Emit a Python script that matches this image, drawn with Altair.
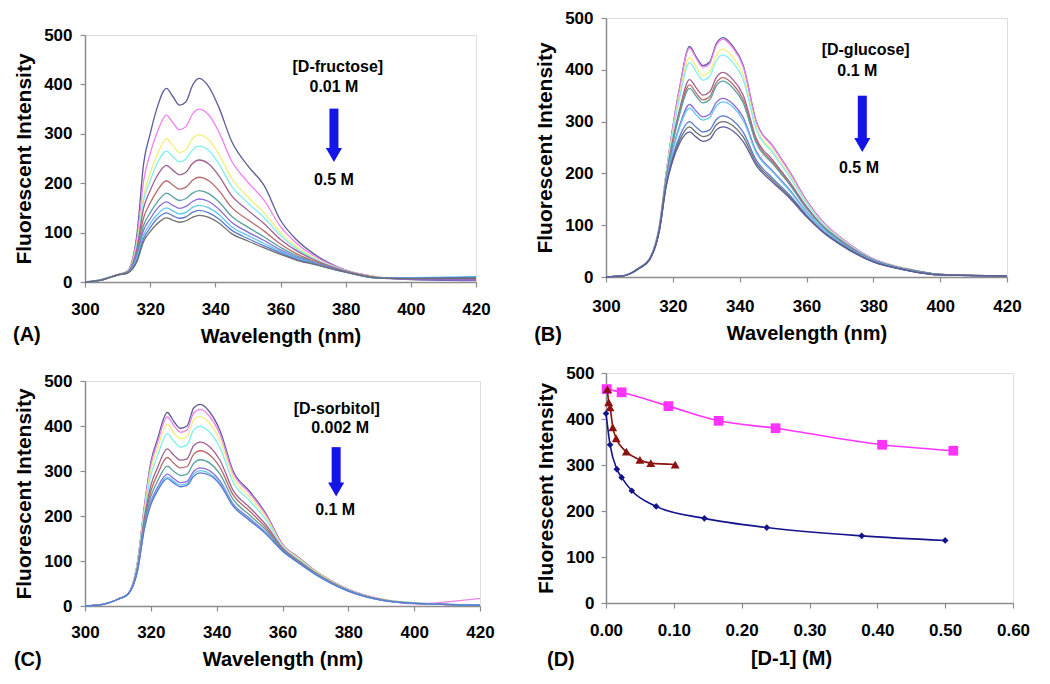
import altair as alt
import pandas as pd

# ---------------- data ----------------
WAVELENGTHS = [300, 305, 310, 313, 316, 318, 320, 322, 325, 327, 329, 331, 333,
               335, 338, 341, 345, 350, 355, 360, 365, 370, 380, 390, 400, 420]

FRUCTOSE_CURVES = [
    [0, 5, 15, 22, 100, 240, 300, 350, 392, 375, 358, 365, 398, 412, 395, 355, 285, 235, 195, 125, 85, 58, 24, 10, 5, 3],
    [0, 5, 15, 22, 90, 205, 260, 300, 338, 322, 308, 315, 340, 350, 338, 305, 245, 202, 165, 112, 78, 54, 24, 10, 6, 5],
    [0, 5, 15, 21, 80, 175, 220, 255, 290, 276, 262, 268, 290, 298, 288, 260, 210, 172, 140, 100, 71, 50, 23, 10, 7, 8],
    [0, 5, 15, 21, 75, 165, 205, 238, 265, 254, 243, 249, 267, 275, 266, 240, 194, 160, 130, 94, 67, 48, 23, 9, 8, 10],
    [0, 4, 15, 20, 70, 150, 185, 213, 236, 226, 217, 222, 240, 247, 239, 216, 175, 145, 118, 86, 63, 46, 22, 9, 6, 6],
    [0, 4, 15, 20, 65, 130, 160, 183, 205, 196, 188, 192, 206, 212, 205, 186, 151, 126, 103, 77, 57, 43, 22, 9, 7, 7],
    [0, 4, 14, 19, 60, 115, 140, 160, 180, 172, 165, 169, 180, 185, 179, 163, 133, 111, 91, 70, 53, 41, 21, 9, 8, 9],
    [0, 4, 14, 19, 55, 105, 128, 147, 162, 155, 149, 153, 163, 168, 163, 148, 121, 101, 84, 65, 50, 39, 21, 8, 6, 4],
    [0, 4, 14, 18, 50, 95, 118, 135, 150, 144, 138, 141, 151, 155, 150, 137, 112, 94, 78, 62, 48, 38, 20, 8, 9, 11],
    [0, 4, 14, 18, 45, 88, 110, 127, 140, 134, 129, 132, 141, 145, 140, 128, 105, 88, 73, 59, 46, 37, 20, 8, 8, 10],
    [0, 4, 14, 18, 42, 82, 102, 117, 130, 125, 121, 124, 131, 135, 131, 120, 98, 83, 69, 56, 44, 36, 20, 8, 7, 8],
]
FRUCTOSE_COLORS = ["#5c5c99", "#f080f0", "#f2ee7a", "#80eef0", "#a06090", "#b86a6a",
                   "#5aa0a0", "#8a6ad8", "#60c8f0", "#5a7ad0", "#6e6e6e"]

GLUCOSE_CURVES = [
    [0, 2, 18, 35, 100, 200, 290, 365, 445, 425, 408, 415, 450, 462, 445, 410, 300, 252, 203, 148, 106, 77, 35, 16, 5, 2],
    [0, 2, 18, 35, 100, 200, 289, 363, 442, 422, 405, 412, 447, 459, 442, 407, 298, 251, 202, 147, 106, 77, 35, 16, 5, 2],
    [0, 2, 18, 35, 99, 197, 282, 351, 424, 405, 389, 396, 428, 440, 424, 391, 289, 243, 196, 144, 103, 75, 34, 16, 5, 2],
    [0, 2, 18, 35, 98, 195, 278, 345, 414, 396, 380, 387, 418, 429, 414, 382, 284, 239, 193, 142, 102, 74, 34, 15, 5, 2],
    [0, 2, 18, 34, 96, 190, 265, 323, 381, 365, 351, 357, 385, 395, 381, 352, 267, 225, 183, 136, 98, 72, 33, 15, 5, 2],
    [0, 2, 18, 34, 96, 189, 261, 317, 371, 355, 342, 348, 375, 385, 372, 343, 262, 221, 180, 134, 97, 71, 32, 15, 5, 2],
    [0, 2, 18, 34, 95, 188, 258, 313, 364, 349, 336, 342, 369, 378, 365, 337, 258, 218, 178, 132, 96, 70, 32, 15, 5, 2],
    [0, 2, 17, 34, 93, 183, 246, 292, 333, 320, 309, 314, 337, 345, 334, 309, 242, 204, 168, 126, 92, 67, 31, 14, 4, 2],
    [0, 2, 17, 34, 93, 182, 243, 288, 326, 313, 303, 308, 330, 338, 328, 303, 239, 202, 166, 125, 92, 67, 31, 14, 4, 2],
    [0, 2, 17, 33, 91, 178, 233, 271, 300, 289, 280, 284, 304, 311, 302, 280, 225, 190, 158, 120, 88, 65, 30, 13, 4, 2],
    [0, 2, 17, 33, 91, 176, 229, 264, 290, 279, 271, 275, 294, 300, 292, 271, 220, 186, 155, 118, 87, 64, 29, 13, 4, 2],
    [0, 2, 17, 33, 90, 175, 225, 258, 280, 270, 262, 266, 284, 290, 282, 262, 215, 182, 152, 116, 86, 63, 29, 13, 4, 2],
]
GLUCOSE_COLORS = ["#9a5ad0", "#e070e0", "#f0ee70", "#f6eea0", "#80e4f0", "#a0e8e8",
                  "#804080", "#a07060", "#708050", "#5050a0", "#4a80d0", "#70d0f0"]

SORBITOL_CURVES = [
    [0, 3, 15, 26, 100, 220, 320, 370, 430, 410, 395, 400, 440, 448, 430, 390, 300, 255, 205, 137, 107, 78, 37, 15, 7, 2],
    [0, 3, 15, 26, 99, 217, 313, 362, 420, 401, 386, 391, 429, 437, 420, 381, 295, 251, 202, 136, 106, 77, 37, 15, 5, 17],
    [0, 3, 15, 26, 96, 211, 303, 349, 404, 385, 372, 376, 413, 421, 405, 368, 286, 243, 197, 134, 105, 77, 36, 15, 7, 2],
    [0, 3, 15, 26, 94, 204, 290, 333, 383, 366, 353, 358, 391, 399, 385, 352, 275, 234, 191, 132, 103, 75, 36, 14, 7, 2],
    [0, 3, 15, 26, 89, 193, 268, 307, 349, 335, 324, 327, 356, 364, 353, 324, 257, 219, 180, 129, 100, 74, 35, 14, 6, 2],
    [0, 3, 15, 26, 86, 186, 255, 292, 330, 317, 307, 310, 337, 345, 335, 308, 247, 211, 174, 127, 99, 73, 34, 14, 6, 2],
    [0, 3, 15, 26, 84, 180, 243, 277, 311, 299, 290, 293, 317, 325, 317, 293, 237, 202, 169, 125, 97, 72, 34, 13, 6, 2],
    [0, 3, 15, 26, 81, 174, 232, 263, 293, 283, 274, 277, 299, 307, 300, 278, 227, 195, 163, 123, 96, 71, 33, 13, 6, 2],
    [0, 3, 15, 26, 81, 172, 228, 258, 287, 277, 269, 272, 293, 301, 294, 274, 224, 192, 161, 122, 95, 70, 33, 13, 6, 2],
    [0, 3, 15, 26, 80, 170, 225, 255, 283, 273, 265, 268, 288, 296, 290, 270, 222, 190, 160, 122, 95, 70, 33, 13, 6, 2],
]
SORBITOL_COLORS = ["#6a6aa0", "#ee70ee", "#70e0d0", "#e090b8", "#d8907a",
                   "#80d8e8", "#c89090", "#9090e0", "#5a8ad0", "#3f5f9f"]

SPEC_X_TICKS = [300, 320, 340, 360, 380, 400, 420]
INTENSITY_TICKS = [0, 100, 200, 300, 400, 500]
CONC_TICKS = [0.0, 0.1, 0.2, 0.3, 0.4, 0.5, 0.6]

# panel D: intensity vs [D-1]
D_FRU_X = [0.0, 0.006, 0.016, 0.023, 0.038, 0.074, 0.145, 0.237, 0.377, 0.50]
D_FRU_Y = [412, 344, 291, 273, 244, 210, 184, 164, 146, 136]
D_GLU_X = [0.001, 0.023, 0.092, 0.166, 0.25, 0.407, 0.512]
D_GLU_Y = [465, 458, 428, 396, 380, 344, 331]
D_SOR_X = [0.002, 0.004, 0.006, 0.01, 0.015, 0.03, 0.05, 0.066, 0.102]
D_SOR_Y = [465, 436, 425, 382, 358, 329, 311, 304, 301]

# annotation texts (label, x, y in data units)
ANN_A = [("[D-fructose]", 377.6, 436), ("0.01 M", 376.4, 395), ("0.5 M", 376.4, 207)]
ANN_B = [("[D-glucose]", 377.7, 439), ("0.1 M", 375.2, 397), ("0.5 M", 375.7, 210)]
ANN_C = [("[D-sorbitol]", 376.5, 437), ("0.002 M", 377.5, 395), ("0.1 M", 376.0, 213)]
# arrows: x, shaft top, shaft bottom, head centre
ARROW_A = (376.4, 351, 266, 257)
ARROW_B = (376.7, 350, 263, 255)
ARROW_C = (376.3, 353, 268, 259)
LABEL_A = ("(A)", 277.9, -107)
LABEL_B = ("(B)", 278.5, -112)
LABEL_C = ("(C)", 278.4, -120)
LABEL_D = ("(D)", -0.087, -124)

# ---------------- styling helpers ----------------
FONT = "Liberation Sans"
GRAY = "#8c8c8c"
ARROW_COLOR = "#1515e8"


def make_axis(title, values, fmt=None, title_x=None, label_pad=12, title_pad=8, title_size=20):
    kw = dict(values=values, title=title, titleFont=FONT, titleFontSize=title_size,
              titleFontWeight="bold", titleColor="black", labelFont=FONT,
              labelFontSize=17, labelFontWeight="bold", labelColor="black",
              tickSize=5, tickColor=GRAY, tickWidth=1.2, domainColor=GRAY,
              domainWidth=1.5, labelPadding=label_pad, titlePadding=title_pad,
              grid=False, labelOverlap=False, labelFlush=False)
    if fmt:
        kw["format"] = fmt
    if title_x is not None:
        kw["titleX"] = title_x
    return alt.Axis(**kw)


def text_layer(items, xs, ys, size=16, align="center", color="black"):
    df = pd.DataFrame({"t": [i[0] for i in items], "xv": [i[1] for i in items],
                       "yv": [i[2] for i in items]})
    return alt.Chart(df).mark_text(font=FONT, fontSize=size, fontWeight="bold",
                                   color=color, align=align, baseline="middle").encode(
        x=alt.X("xv:Q", scale=xs), y=alt.Y("yv:Q", scale=ys), text="t:N")


def spectrum_panel(curves, colors, ann, arrow, label, width, height, xlab_pad, xtitle_pad):
    rows = []
    for i, curve in enumerate(curves):
        for w, v in zip(WAVELENGTHS, curve):
            rows.append({"curve": f"c{i:02d}", "xv": w, "yv": v})
    df = pd.DataFrame(rows)
    names = [f"c{i:02d}" for i in range(len(curves))]
    xs = alt.Scale(domain=[300, 420], nice=False, zero=False)
    ys = alt.Scale(domain=[0, 500], nice=False)
    lines = alt.Chart(df).mark_line(strokeWidth=1.3, interpolate="monotone").encode(
        x=alt.X("xv:Q", scale=xs, axis=make_axis("Wavelength (nm)", SPEC_X_TICKS,
                                                  label_pad=xlab_pad, title_pad=xtitle_pad)),
        y=alt.Y("yv:Q", scale=ys, axis=make_axis("Fluorescent Intensity", INTENSITY_TICKS,
                                                  label_pad=8, title_pad=9, title_size=21)),
        color=alt.Color("curve:N", scale=alt.Scale(domain=names, range=colors), legend=None),
        detail="curve:N",
    )
    adf = pd.DataFrame({"xv": [arrow[0]], "yv": [arrow[1]], "yv2": [arrow[2]], "yh": [arrow[3]]})
    shaft = alt.Chart(adf).mark_rule(strokeWidth=9, color=ARROW_COLOR).encode(
        x=alt.X("xv:Q", scale=xs), y=alt.Y("yv:Q", scale=ys), y2="yv2:Q")
    head = alt.Chart(adf).mark_point(shape="triangle-down", filled=True, size=260,
                                     color=ARROW_COLOR, opacity=1).encode(
        x=alt.X("xv:Q", scale=xs), y=alt.Y("yh:Q", scale=ys))
    texts = text_layer(ann, xs, ys, size=16)
    lab = text_layer([label], xs, ys, size=20, align="left")
    return alt.layer(lines, shaft, head, texts, lab).properties(width=width, height=height)


def titration_panel(width, height):
    xs = alt.Scale(domain=[0, 0.6], nice=False)
    ys = alt.Scale(domain=[0, 500], nice=False)
    frames = []
    for name, xv, yv in (("fru", D_FRU_X, D_FRU_Y), ("glu", D_GLU_X, D_GLU_Y),
                         ("sor", D_SOR_X, D_SOR_Y)):
        frames.append(pd.DataFrame({"s": name, "xv": xv, "yv": yv}))
    df = pd.concat(frames, ignore_index=True)
    colors = {"fru": "#14148c", "glu": "#ff33ff", "sor": "#8b1010"}
    shapes = {"fru": ("diamond", 45), "glu": ("square", 95), "sor": ("triangle-up", 80)}
    layers = []
    for k in ("glu", "sor", "fru"):
        sub = df[df.s == k]
        layers.append(alt.Chart(sub).mark_line(color=colors[k], strokeWidth=1.6,
                                               interpolate="monotone").encode(
            x=alt.X("xv:Q", scale=xs, axis=make_axis("[D-1] (M)", CONC_TICKS, fmt=".2f",
                                                      title_x=185, label_pad=14, title_pad=10)),
            y=alt.Y("yv:Q", scale=ys, axis=make_axis("Fluorescent Intensity", INTENSITY_TICKS,
                                                      label_pad=7, title_pad=9, title_size=21))))
        layers.append(alt.Chart(sub).mark_point(shape=shapes[k][0], size=shapes[k][1],
                                                filled=True, color=colors[k], opacity=1).encode(
            x=alt.X("xv:Q", scale=xs), y=alt.Y("yv:Q", scale=ys)))
    layers.append(text_layer([LABEL_D], xs, ys, size=20, align="left"))
    return alt.layer(*layers).properties(width=width, height=height)


panel_a = spectrum_panel(FRUCTOSE_CURVES, FRUCTOSE_COLORS, ANN_A, ARROW_A, LABEL_A, 391, 247,
                         xlab_pad=14, xtitle_pad=9)
panel_b = spectrum_panel(GLUCOSE_CURVES, GLUCOSE_COLORS, ANN_B, ARROW_B, LABEL_B, 401, 259,
                         xlab_pad=16, xtitle_pad=9)
panel_c = spectrum_panel(SORBITOL_CURVES, SORBITOL_COLORS, ANN_C, ARROW_C, LABEL_C, 395, 225,
                         xlab_pad=13, xtitle_pad=9)
panel_d = titration_panel(407, 230)

# an empty, invisible spacer view that lets panel (A) sit lower than panel (B)
spacer = alt.Chart(pd.DataFrame({"xv": [0]})).mark_point(size=0, opacity=0).encode(
    x=alt.value(0), y=alt.value(0)
).properties(width=1, height=1, view=alt.ViewBackground(stroke="transparent"))

col1 = alt.vconcat(spacer, alt.vconcat(panel_a, panel_c, spacing=24), spacing=5)
col2 = alt.vconcat(panel_b, panel_d, spacing=17)

chart = alt.hconcat(col1, col2, spacing=38).properties(
    padding={"left": 4, "top": 0, "right": 4, "bottom": 4},
    background="white",
).configure_view(stroke=GRAY, strokeWidth=1.5).configure(font=FONT)

chart.save("out.html", embed_options={"renderer": "svg", "actions": False})
